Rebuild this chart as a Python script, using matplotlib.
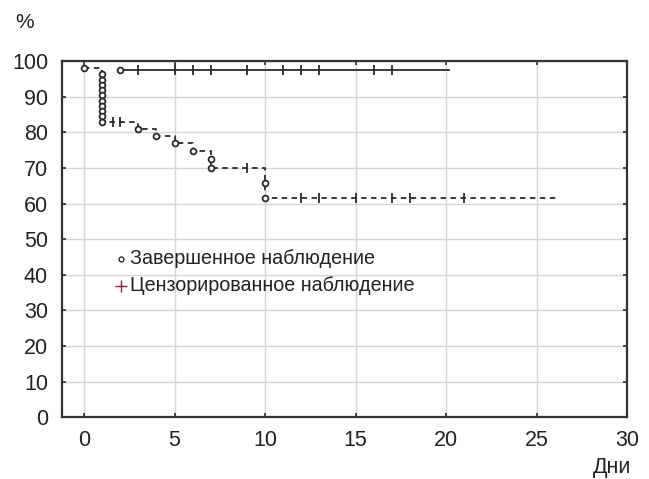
import matplotlib.pyplot as plt

plt.rcParams['font.family'] = ['Liberation Sans', 'DejaVu Sans']

# group 1 (solid line)
g1_start = [2.0]
g1_start_s = [97.5]
g1_end = 20.15
g1_cens_t = [3, 5, 6, 7, 9, 11, 12, 13, 16, 17]

# group 2 (dashed line)
g2_step_t = [0, 1, 3, 4, 5, 6, 7, 10]
g2_step_s = [98.1, 83.0, 81.0, 79.0, 77.1, 74.8, 70.1, 61.7]
g2_end = 26.2
g2_event_t = [0, 1, 1, 1, 1, 1, 1, 1, 1, 1, 1, 3, 4, 5, 6, 7, 7, 10, 10]
g2_event_s = [98.1, 96.3, 94.8, 93.4, 91.9, 90.4, 88.9, 87.5, 86.0, 84.5, 83.0,
              81.0, 79.0, 77.1, 74.8, 72.6, 70.1, 65.9, 61.7]
g2_cens_t = [1.6, 2.0, 9, 12, 13, 15, 17, 18, 21]

xticks = [0, 5, 10, 15, 20, 25, 30]
yticks = list(range(0, 101, 10))

fig = plt.figure(figsize=(6.49, 4.79), dpi=100)
ax = fig.add_axes([0.0955, 0.129, 0.8706, 0.743])

lc = '#2a2a2a'

# group 1
ax.plot([g1_start[0], g1_end], [g1_start_s[0], g1_start_s[0]], color=lc, lw=1.3)
ax.plot(g1_start, g1_start_s, 'o', ms=4.2, mfc='white', mec=lc, mew=1.3)
ax.plot(g1_cens_t, [g1_start_s[0]] * len(g1_cens_t), '|', ms=7, mec=lc, mew=1.3)

# group 2
def surv_at(t):
    s = g2_step_s[0]
    for tt, ss in zip(g2_step_t, g2_step_s):
        if t >= tt:
            s = ss
    return s

ax.step(g2_step_t + [g2_end], g2_step_s + [g2_step_s[-1]], where='post',
        color=lc, lw=1.3, ls=(0, (3, 2.5)))
ax.plot(g2_event_t, g2_event_s, 'o', ms=4.2, mfc='white', mec=lc, mew=1.3, zorder=3)
ax.plot(g2_cens_t, [surv_at(t) for t in g2_cens_t], '|', ms=7, mec=lc, mew=1.3)

# legend text
ax.plot([2.05], [44.5], 'o', ms=3.5, mfc='white', mec=lc, mew=1.0)
ax.text(2.55, 44.5, 'Завершенное наблюдение', fontsize=14.2, va='center', color='#222222')
ax.plot([2.05], [37.0], '+', ms=8, mec='#8a1f4f', mew=1.0)
ax.text(2.55, 37.0, 'Цензорированное наблюдение', fontsize=14.2, va='center', color='#222222')

ax.set_xlim(-1.22, 30)
ax.set_ylim(0, 100)
ax.set_xticks(xticks)
ax.set_yticks(yticks)
ax.grid(True, color='#d6d6d6', lw=1.0)
ax.set_axisbelow(True)
ax.tick_params(direction='in', length=3, width=1.2, color=lc, labelsize=15.5,
               top=True, right=True, labelcolor='#222222')
ax.tick_params(axis='y', pad=10)
ax.tick_params(axis='x', pad=9)
for sp in ax.spines.values():
    sp.set_color('#333333')
    sp.set_linewidth(1.6)

fig.text(0.023, 0.952, '%', fontsize=15, color='#222222', va='center')
fig.text(0.972, 0.025, 'Дни', fontsize=15.5, color='#222222', ha='right', va='center')

fig.savefig('out.png', dpi=100)
